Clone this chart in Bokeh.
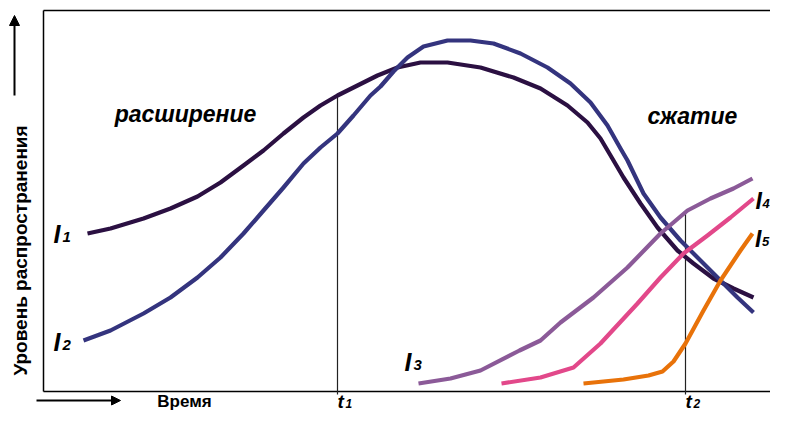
import math
from bokeh.plotting import figure
from bokeh.models import Range1d, Arrow, NormalHead
from bokeh.core.properties import value
from bokeh.embed import file_html
from bokeh.resources import INLINE

# ---- data (arbitrary units: time on x, diffusion level on y) ----
i1_x = [4.4, 6.7, 10.0, 12.7, 15.4, 17.7, 20.0, 22.0, 24.0, 26.0, 27.7, 29.4, 31.4, 33.4, 35.4, 37.7,
        40.4, 43.7, 47.0, 49.7, 52.4, 54.4, 55.7, 57.0, 58.0, 59.7, 61.4, 63.4, 65.0, 67.0, 69.0, 71.0]
i1_y = [15.8, 16.3, 17.3, 18.3, 19.5, 20.9, 22.6, 24.1, 25.8, 27.4, 28.6, 29.6, 30.6, 31.6, 32.4, 32.9,
        32.9, 32.4, 31.4, 30.3, 28.6, 26.9, 25.3, 23.1, 21.4, 18.8, 16.4, 14.1, 12.8, 11.3, 10.3, 9.4]

i2_x = [4.0, 6.7, 10.0, 12.7, 15.4, 17.7, 20.0, 22.0, 24.0, 26.0, 27.7, 29.4, 31.0, 32.7, 33.7, 35.0,
        36.4, 38.0, 40.4, 42.7, 45.0, 47.7, 50.4, 52.7, 54.7, 56.4, 57.7, 58.4, 60.0, 61.7, 63.7, 65.7,
        67.7, 69.4, 71.0]
i2_y = [5.1, 6.1, 7.8, 9.4, 11.4, 13.4, 15.8, 18.1, 20.4, 22.8, 24.4, 25.8, 27.6, 29.6, 30.5, 32.0,
        33.4, 34.5, 35.1, 35.1, 34.8, 33.8, 32.4, 30.8, 28.9, 26.6, 24.3, 23.1, 19.8, 17.4, 15.1, 13.1,
        11.1, 9.4, 7.9]

i3_x = [37.5, 40.7, 43.7, 47.6, 49.7, 51.7, 55.0, 58.4, 61.7, 64.4, 66.7, 69.0, 70.9]
i3_y = [0.8, 1.3, 2.1, 4.1, 5.1, 6.9, 9.4, 12.4, 15.8, 18.1, 19.3, 20.3, 21.3]

i4_x = [45.8, 49.7, 53.0, 55.7, 56.9, 59.4, 61.7, 64.0, 66.4, 68.7, 71.0]
i4_y = [0.8, 1.4, 2.4, 4.8, 6.1, 8.8, 11.4, 13.8, 15.6, 17.4, 19.3]

i5_x = [54.0, 58.0, 60.5, 61.9, 63.0, 64.2, 66.0, 67.7, 69.7, 70.9]
i5_y = [0.8, 1.2, 1.6, 2.0, 3.0, 4.8, 8.1, 11.1, 14.1, 15.8]

series_names = ["1", "2", "3", "4", "5"]
label_x = [1.0, 1.0, 36.1, 71.2, 71.15]
label_y = [15.75, 5.0, 2.95, 19.1, 15.3]

t_x = [29.4, 64.2]
t_top = [29.6, 17.8]
t_names = ["1", "2"]
t_label_y = [-1.0, -1.0]

frame_x = [0.0, 74.3]
frame_y = [0.0, 38.1]

phase_text = ["расширение", "сжатие"]
phase_x = [14.2, 64.9]
phase_y = [27.8, 27.6]

x_title = "Время"
y_title = "Уровень распространения"

colors = ["#2b1042", "#34347e", "#8b5a98", "#e2488a", "#e87209"]

FONT = value("Liberation Sans")

p = figure(width=770, height=412, x_range=Range1d(-4.3, 72.7), y_range=Range1d(-2.1, 39.1),
           min_border=0, toolbar_location=None, output_backend="svg",
           x_axis_type=None, y_axis_type=None)
p.grid.visible = False
p.outline_line_color = None
p.background_fill_color = "white"

# frame (left, top, bottom)
p.segment(x0=[frame_x[0], frame_x[0], frame_x[0]], y0=[frame_y[0], frame_y[1], frame_y[0]],
          x1=[frame_x[0], frame_x[1], frame_x[1]], y1=[frame_y[1], frame_y[1], frame_y[0]],
          line_color="black", line_width=1.5)

# time markers
p.segment(x0=t_x, y0=[-0.3, -0.3], x1=t_x, y1=t_top, line_color="#222222", line_width=1.2)

# curves
for xs, ys, c in [(i1_x, i1_y, colors[0]), (i2_x, i2_y, colors[1]), (i3_x, i3_y, colors[2]),
                  (i4_x, i4_y, colors[3]), (i5_x, i5_y, colors[4])]:
    p.line(xs, ys, line_color=c, line_width=4.2, line_join="round")

# series labels I with subscript
p.text(x=label_x[:3], y=label_y[:3], text=["I"] * 3, text_font=FONT, text_font_style="bold italic",
       text_font_size="25px", text_align="left", text_baseline="middle", text_color="black")
p.text(x=label_x[:3], y=label_y[:3], text=series_names[:3], text_font=FONT, text_font_style="bold italic",
       text_font_size="15px", text_align="left", text_baseline="middle", text_color="black",
       x_offset=9, y_offset=3)
p.text(x=label_x[3:], y=label_y[3:], text=["I"] * 2, text_font=FONT, text_font_style="bold italic",
       text_font_size="23px", text_align="left", text_baseline="middle", text_color="black")
p.text(x=label_x[3:], y=label_y[3:], text=series_names[3:], text_font=FONT, text_font_style="bold italic",
       text_font_size="13px", text_align="left", text_baseline="middle", text_color="black",
       x_offset=7, y_offset=3)

# time labels
p.text(x=t_x, y=t_label_y, text=["t", "t"], text_font=FONT, text_font_style="bold italic",
       text_font_size="19px", text_align="left", text_baseline="middle", text_color="black")
p.text(x=t_x, y=t_label_y, text=t_names, text_font=FONT, text_font_style="bold italic",
       text_font_size="12px", text_align="left", text_baseline="middle", text_color="black",
       x_offset=8, y_offset=2)

# phase labels
p.text(x=phase_x, y=phase_y, text=phase_text, text_font=FONT, text_font_style="bold italic",
       text_font_size="23px", text_align="center", text_baseline="middle", text_color="black")

# axis titles
p.text(x=[14.1], y=[-1.0], text=[x_title], text_font=FONT, text_font_style="bold",
       text_font_size="17px", text_align="center", text_baseline="middle", text_color="black")
p.text(x=[-2.3], y=[14.1], text=[y_title], text_font=FONT, text_font_style="bold",
       text_font_size="19px", text_align="center", text_baseline="middle", text_color="black",
       angle=math.pi / 2)

# arrows
p.add_layout(Arrow(end=NormalHead(size=10, fill_color="black", line_color="black"),
                   x_start=-2.9, y_start=29.6, x_end=-2.9, y_end=37.6,
                   line_color="black", line_width=2))
p.add_layout(Arrow(end=NormalHead(size=9, fill_color="black", line_color="black"),
                   x_start=-0.7, y_start=-0.9, x_end=7.7, y_end=-0.9,
                   line_color="black", line_width=2))

open("out.html", "w").write(file_html(p, INLINE))
